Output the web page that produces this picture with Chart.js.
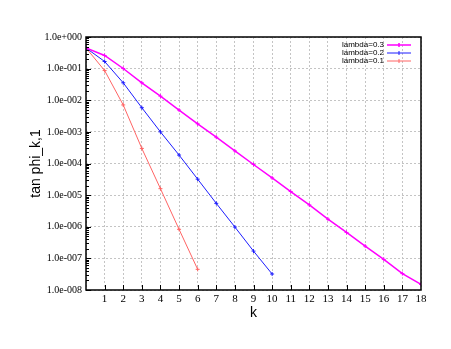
<!DOCTYPE html>
<html>
<head>
<meta charset="utf-8">
<script src="https://cdn.jsdelivr.net/npm/chart.js@4"></script>
<style>
  body { margin: 0; background: #fff; }
  canvas { display: block; }
</style>
</head>
<body>
<canvas id="tanChart" width="451" height="349"></canvas>
<script>
// data
const ks = [0, 1, 2, 3, 4, 5, 6, 7, 8, 9, 10, 11, 12, 13, 14, 15, 16, 17, 18];
const lambda03 = [0.45, 0.26, 0.101, 0.0356, 0.0135, 0.0049, 0.0018, 6.8e-4, 2.5e-4, 9.3e-5,
                  3.5e-5, 1.3e-5, 4.9e-6, 1.74e-6, 6.6e-7, 2.45e-7, 9.3e-8, 3.3e-8, 1.5e-8];
const lambda02 = [0.45, 0.168, 0.0356, 0.0058, 1.0e-3, 1.85e-4, 3.2e-5, 5.5e-6, 9.8e-7, 1.7e-7, 3.2e-8];
const lambda01 = [0.45, 0.087, 0.0071, 3.0e-4, 1.6e-5, 8.3e-7, 4.5e-8];
const seriesNames = ['lambda=0.3', 'lambda=0.2', 'lambda=0.1'];
const decades = [0, -1, -2, -3, -4, -5, -6, -7, -8];

const colors = ['#ff00ff', '#1c1cff', '#ff6464'];
const serif = "'Liberation Serif', 'DejaVu Serif', serif";
const sans = "'Liberation Sans', Arial, sans-serif";

const toPoints = arr => arr.map((v, i) => ({ x: ks[i], y: v }));

function expLabel(e) {
    const sign = e < 0 ? '-' : '+';
    return '1.0e' + sign + String(Math.abs(e)).padStart(3, '0');
}

// y ticks: decades plus minor 2..9
const yTicks = [];
decades.forEach(e => {
    yTicks.push({ value: Math.pow(10, e), major: true });
    if (e > -8) {
        for (let m = 2; m <= 9; m++) yTicks.push({ value: m * Math.pow(10, e - 1), major: false });
    }
});

// frame, inward ticks and legend (gnuplot look)
const framePlugin = {
    id: 'frame',
    afterDatasetsDraw(chart) {
        const { ctx, chartArea: a, scales } = chart;
        ctx.save();
        ctx.strokeStyle = '#000';
        ctx.lineWidth = 1;
        ctx.beginPath();
        ks.forEach(k => {
            if (k === 0 || k === 18) return;
            const x = Math.round(scales.x.getPixelForValue(k)) + 0.5;
            ctx.moveTo(x, a.bottom); ctx.lineTo(x, a.bottom - 5);
        });
        yTicks.forEach(t => {
            const y = Math.round(scales.y.getPixelForValue(t.value)) + 0.5;
            const len = t.major ? 5 : 3;
            ctx.moveTo(a.left, y); ctx.lineTo(a.left + len, y);
        });
        ctx.stroke();
        ctx.lineWidth = 1.5;
        ctx.strokeRect(a.left, a.top, a.right - a.left, a.bottom - a.top);

        // legend
        ctx.font = '8px ' + sans;
        ctx.textAlign = 'right';
        ctx.textBaseline = 'middle';
        seriesNames.forEach((name, i) => {
            const y = 45 + i * 8;
            ctx.fillStyle = '#000';
            ctx.fillText(name, 384, y);
            ctx.strokeStyle = colors[i];
            ctx.lineWidth = i === 0 ? 1.5 : 1;
            ctx.beginPath();
            ctx.moveTo(387, y); ctx.lineTo(411, y);
            ctx.moveTo(399, y - 2); ctx.lineTo(399, y + 2);
            ctx.stroke();
        });
        ctx.restore();
    }
};

const mkSet = (label, arr, i, w) => ({
    label: label,
    data: toPoints(arr),
    borderColor: colors[i],
    backgroundColor: colors[i],
    borderWidth: w,
    pointStyle: 'cross',
    pointRadius: 2,
    pointBorderWidth: 1,
    tension: 0
});

new Chart(document.getElementById('tanChart'), {
    type: 'line',
    data: {
        datasets: [
            mkSet(seriesNames[0], lambda03, 0, 1.5),
            mkSet(seriesNames[1], lambda02, 1, 1),
            mkSet(seriesNames[2], lambda01, 2, 1)
        ]
    },
    options: {
        responsive: false,
        animation: false,
        layout: { padding: { left: 28, top: 37, right: 30, bottom: 27 } },
        plugins: { legend: { display: false }, tooltip: { enabled: false } },
        scales: {
            x: {
                type: 'linear',
                min: 0,
                max: 18,
                afterFit: s => { s.height = 32; },
                grid: { color: '#c4c4c4', drawTicks: false },
                border: { display: false, dash: [2, 2] },
                ticks: {
                    stepSize: 1,
                    padding: 3,
                    color: '#000',
                    font: { family: serif, size: 11 },
                    callback: v => (v === 0 ? '' : v)
                },
                title: {
                    display: true,
                    text: 'k',
                    color: '#000',
                    font: { family: sans, size: 14 },
                    padding: { top: 0, bottom: 0 }
                }
            },
            y: {
                type: 'logarithmic',
                min: 1e-8,
                max: 1,
                afterFit: s => { s.width = 58; },
                afterBuildTicks: s => { s.ticks = yTicks.map(t => ({ value: t.value, major: t.major })); },
                grid: {
                    drawTicks: false,
                    color: c => (c.tick && c.tick.major ? '#c4c4c4' : 'rgba(0,0,0,0)')
                },
                border: { display: false, dash: [2, 2] },
                ticks: {
                    autoSkip: false,
                    padding: 4,
                    color: '#000',
                    font: { family: serif, size: 10 },
                    callback: function (v, i) {
                        const t = yTicks[i];
                        return t && t.major ? expLabel(Math.round(Math.log10(v))) : '';
                    }
                },
                title: {
                    display: true,
                    text: 'tan phi_k,1',
                    color: '#000',
                    font: { family: sans, size: 14 },
                    padding: { top: 0, bottom: 0 }
                }
            }
        }
    },
    plugins: [framePlugin]
});
</script>
</body>
</html>
